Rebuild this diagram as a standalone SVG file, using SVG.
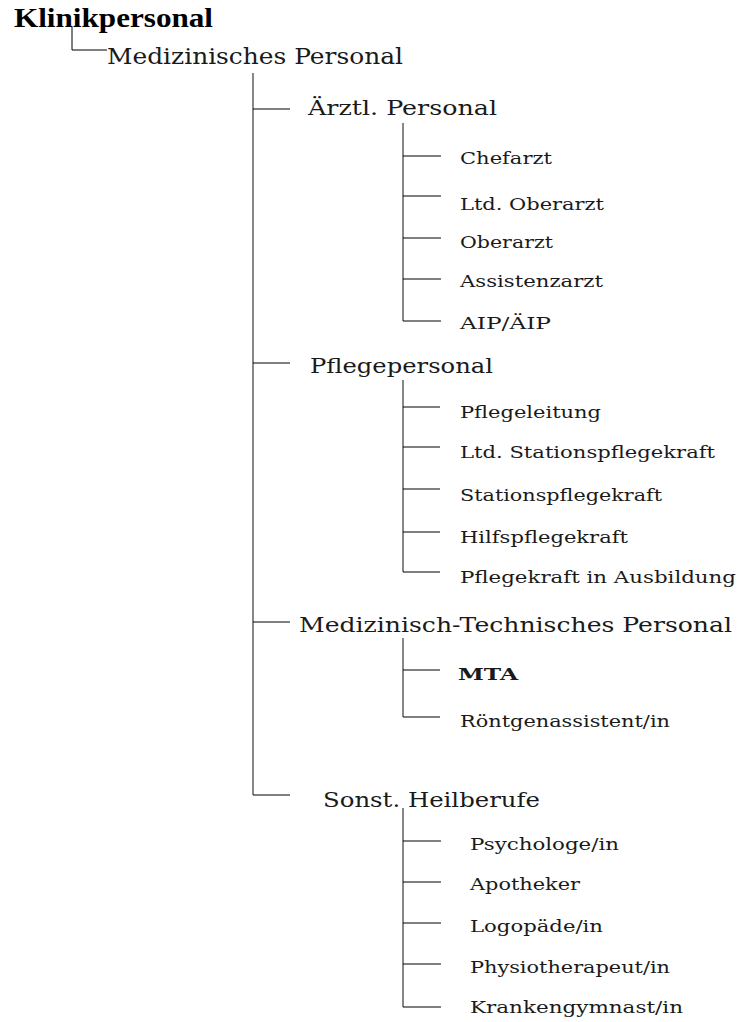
<svg xmlns="http://www.w3.org/2000/svg" width="740" height="1022" viewBox="0 0 740 1022">
<style>
.t{font-family:"DejaVu Serif","Liberation Serif",serif;fill:#1a1a1a;font-weight:normal}
.l1{font-size:21px}
.l0{font-size:22px}
.l2{font-size:17.5px}
.title{font-family:"Liberation Serif",serif;font-weight:bold;font-size:27px;fill:#000}
.v{stroke:#555;stroke-width:1.4;fill:none}
.h{stroke:#000;stroke-width:1;fill:none}
</style>
<rect width="740" height="1022" fill="#fff"/>
<g id="connectors">
<path class="h" d="M72,27V50H107"/>
<path class="v" d="M253,73V795"/>
<path class="h" d="M253,109H290M253,363H290M253,622H290M253,795H290"/>
<path class="v" d="M403,123V321M403,380V572M403,638V717M403,808V1007"/>
<path class="h" d="M403,156H441M403,196H441M403,238H441M403,279H441M403,321H441"/>
<path class="h" d="M403,407H440M403,447H440M403,489H440M403,532H440M403,572H440"/>
<path class="h" d="M403,670H440M403,717H440"/>
<path class="h" d="M403,841H441M403,882H441M403,923H441M403,964H441M403,1007H441"/>
</g>
<g id="n-klinikpersonal"><text class="title" x="14" y="27" textLength="199" lengthAdjust="spacingAndGlyphs">Klinikpersonal</text></g>
<g id="n-medizinisches"><text class="t l0" x="107" y="64" textLength="296" lengthAdjust="spacingAndGlyphs">Medizinisches Personal</text></g>
<g id="n-aerztl"><text class="t l1" x="308" y="115" textLength="189" lengthAdjust="spacingAndGlyphs">Ärztl. Personal</text></g>
<g id="n-chefarzt"><text class="t l2" x="460" y="164" textLength="92" lengthAdjust="spacingAndGlyphs">Chefarzt</text></g>
<g id="n-ltd-oberarzt"><text class="t l2" x="460" y="210" textLength="144" lengthAdjust="spacingAndGlyphs">Ltd. Oberarzt</text></g>
<g id="n-oberarzt"><text class="t l2" x="460" y="248" textLength="93" lengthAdjust="spacingAndGlyphs">Oberarzt</text></g>
<g id="n-assistenzarzt"><text class="t l2" x="460" y="287" textLength="143" lengthAdjust="spacingAndGlyphs">Assistenzarzt</text></g>
<g id="n-aip"><text class="t l2" x="460" y="329" textLength="91" lengthAdjust="spacingAndGlyphs">AIP/ÄIP</text></g>
<g id="n-pflegepersonal"><text class="t l1" x="310" y="373" textLength="183" lengthAdjust="spacingAndGlyphs">Pflegepersonal</text></g>
<g id="n-pflegeleitung"><text class="t l2" x="460" y="418" textLength="141" lengthAdjust="spacingAndGlyphs">Pflegeleitung</text></g>
<g id="n-ltd-stationspflegekraft"><text class="t l2" x="460" y="458" textLength="255" lengthAdjust="spacingAndGlyphs">Ltd. Stationspflegekraft</text></g>
<g id="n-stationspflegekraft"><text class="t l2" x="460" y="501" textLength="202" lengthAdjust="spacingAndGlyphs">Stationspflegekraft</text></g>
<g id="n-hilfspflegekraft"><text class="t l2" x="460" y="543" textLength="168" lengthAdjust="spacingAndGlyphs">Hilfspflegekraft</text></g>
<g id="n-pflegekraft-ausbildung"><text class="t l2" x="460" y="583" textLength="276" lengthAdjust="spacingAndGlyphs">Pflegekraft in Ausbildung</text></g>
<g id="n-medtech"><text class="t l1" x="299" y="632" textLength="433" lengthAdjust="spacingAndGlyphs">Medizinisch-Technisches Personal</text></g>
<g id="n-mta"><text class="t l2" x="458" y="680" textLength="60" lengthAdjust="spacingAndGlyphs" style="font-weight:bold">MTA</text></g>
<g id="n-roentgen"><text class="t l2" x="460" y="727" textLength="210" lengthAdjust="spacingAndGlyphs">Röntgenassistent/in</text></g>
<g id="n-sonst"><text class="t l1" x="323" y="807" textLength="217" lengthAdjust="spacingAndGlyphs">Sonst. Heilberufe</text></g>
<g id="n-psychologe"><text class="t l2" x="470" y="850" textLength="149" lengthAdjust="spacingAndGlyphs">Psychologe/in</text></g>
<g id="n-apotheker"><text class="t l2" x="470" y="890" textLength="110" lengthAdjust="spacingAndGlyphs">Apotheker</text></g>
<g id="n-logopaede"><text class="t l2" x="470" y="932" textLength="133" lengthAdjust="spacingAndGlyphs">Logopäde/in</text></g>
<g id="n-physio"><text class="t l2" x="470" y="973" textLength="200" lengthAdjust="spacingAndGlyphs">Physiotherapeut/in</text></g>
<g id="n-krankengymnast"><text class="t l2" x="470" y="1013" textLength="213" lengthAdjust="spacingAndGlyphs">Krankengymnast/in</text></g>
</svg>
